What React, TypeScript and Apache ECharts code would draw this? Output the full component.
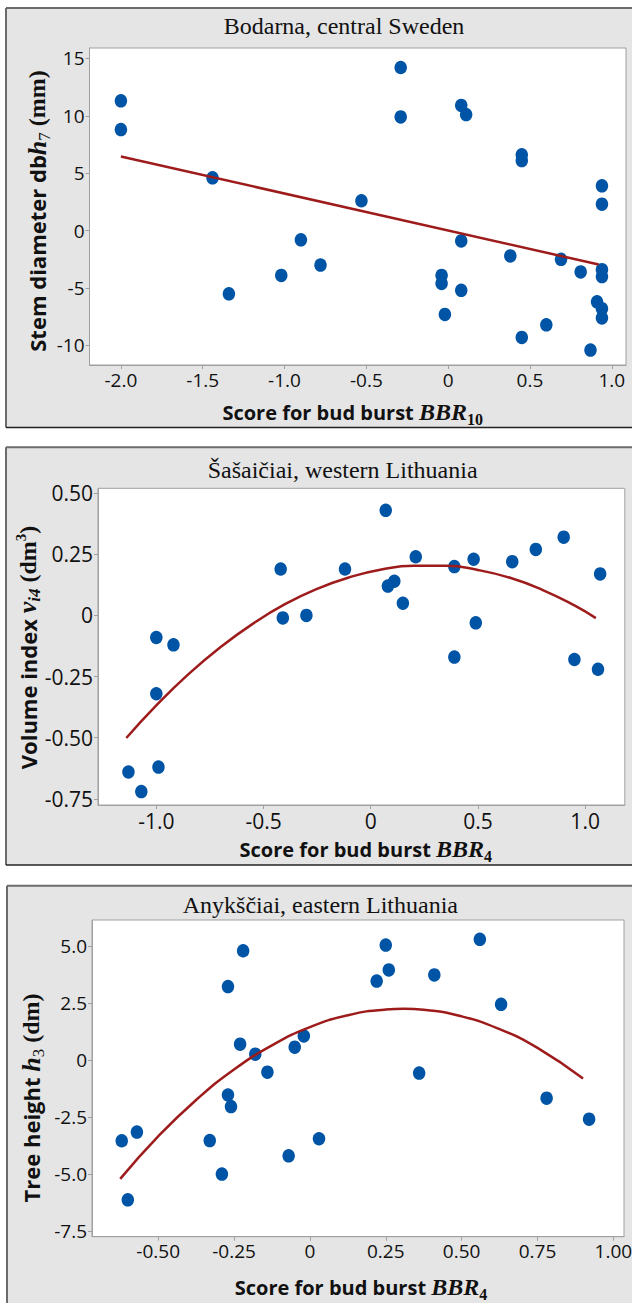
import React, { useEffect, useRef } from "react";
import * as echarts from "echarts";

// ---------- data ----------
const titles = [
  "Bodarna, central Sweden",
  "Šašaičiai, western Lithuania",
  "Anykščiai, eastern Lithuania",
];

// Panel 1: Stem diameter vs BBR10
const p1X = [-2.0, -2.0, -0.29, -0.29, 0.08, 0.11, 0.45, 0.45, -1.44, 0.94, 0.94, -0.53, -0.9, 0.08, 0.38, 0.69, -0.78, 0.81, 0.94, 0.94, -1.02, -0.04, -0.04, -1.34, 0.08, 0.91, 0.94, 0.94, -0.02, 0.6, 0.45, 0.87];
const p1Y = [11.3, 8.8, 14.2, 9.9, 10.9, 10.1, 6.6, 6.1, 4.6, 3.9, 2.3, 2.6, -0.8, -0.9, -2.2, -2.5, -3.0, -3.6, -3.4, -4.0, -3.9, -3.9, -4.6, -5.5, -5.2, -6.2, -6.8, -7.6, -7.3, -8.2, -9.3, -10.4];
const c1X = [-2.0, 0.92];
const c1Y = [6.45, -2.95];

// Panel 2: Volume index vs BBR4
const p2X = [0.07, 0.9, 0.77, 0.21, 0.48, 0.66, 0.39, -0.42, -0.12, 1.07, 0.11, 0.08, 0.15, -0.41, -0.3, 0.49, -1.0, -0.92, 0.39, 0.95, 1.06, -1.0, -0.99, -1.13, -1.07];
const p2Y = [0.43, 0.32, 0.27, 0.24, 0.23, 0.22, 0.2, 0.19, 0.19, 0.17, 0.14, 0.12, 0.05, -0.01, 0.0, -0.03, -0.09, -0.12, -0.17, -0.18, -0.22, -0.32, -0.62, -0.64, -0.72];
const c2X = [-1.14, -1.0, -0.85, -0.7, -0.55, -0.4, -0.25, -0.1, 0.05, 0.2, 0.35, 0.5, 0.65, 0.8, 0.95, 1.05];
const c2Y = [-0.501, -0.368, -0.24, -0.129, -0.034, 0.046, 0.109, 0.156, 0.188, 0.203, 0.203, 0.186, 0.154, 0.105, 0.041, -0.011];

// Panel 3: Tree height vs BBR4
const p3X = [0.56, 0.25, -0.22, 0.26, 0.41, 0.22, -0.27, 0.63, -0.02, -0.23, -0.05, -0.18, -0.14, 0.36, -0.27, 0.78, -0.26, 0.92, -0.57, -0.62, -0.33, 0.03, -0.07, -0.29, -0.6];
const p3Y = [5.29, 5.04, 4.79, 3.95, 3.73, 3.46, 3.22, 2.44, 1.05, 0.69, 0.56, 0.25, -0.54, -0.58, -1.54, -1.68, -2.05, -2.6, -3.17, -3.55, -3.54, -3.46, -4.21, -5.01, -6.14];
const c3X = [-0.625, -0.5, -0.375, -0.25, -0.125, 0, 0.125, 0.25, 0.31, 0.375, 0.5, 0.625, 0.75, 0.9];
const c3Y = [-5.22, -3.36, -1.76, -0.42, 0.64, 1.44, 1.96, 2.21, 2.24, 2.2, 1.91, 1.35, 0.53, -0.82];

// ticks
const x1Ticks = [-2, -1.5, -1, -0.5, 0, 0.5, 1];
const y1Ticks = [-10, -5, 0, 5, 10, 15];
const x2Ticks = [-1, -0.5, 0, 0.5, 1];
const y2Ticks = [-0.75, -0.5, -0.25, 0, 0.25, 0.5];
const x3Ticks = [-0.5, -0.25, 0, 0.25, 0.5, 0.75, 1];
const y3Ticks = [-7.5, -5, -2.5, 0, 2.5, 5];

const xRanges = [[-2.192, 1.087], [-1.272, 1.185], [-0.718, 1.035]];
const yRanges = [[-11.7, 15.9], [-0.775, 0.52], [-7.76, 6.14]];

// ---------- styles ----------
const DOT = "#0054a6";
const LINE = "#9e1b1b";
const AX = "#a0a0a0";
const PANEL = "#e5e5e5";
const TXT = "#111111";

const zip = (xs: number[], ys: number[]) => xs.map((x, i) => [x, ys[i]]);

const fmt = (d: number) => (v: number) => (Math.abs(v) < 1e-9 ? "0" : v.toFixed(d));

const grids = [
  { left: 89.5, top: 48, width: 536.5, height: 317 },
  { left: 98, top: 488.3, width: 526.8, height: 316.7 },
  { left: 92, top: 920, width: 532, height: 316.7 },
];

function axis(kind: "x" | "y", i: number, ticks: number[], dec: number, fs: number) {
  const r = kind === "x" ? xRanges[i] : yRanges[i];
  return {
    type: "value",
    gridIndex: i,
    min: r[0],
    max: r[1],
    splitLine: { show: false },
    axisLine: { show: true, onZero: false, lineStyle: { color: AX, width: 1 } },
    axisTick: { show: true, length: 4, customValues: ticks, lineStyle: { color: AX } },
    axisLabel: {
      customValues: ticks,
      formatter: fmt(dec),
      margin: 5,
      color: TXT,
      fontFamily: "Open Sans",
      fontSize: fs,
    },
  };
}

function rich(base: number) {
  return {
    s: { fontFamily: "Open Sans", fontWeight: "bold", fontSize: base, fill: TXT },
    m: { fontFamily: "Liberation Serif", fontWeight: "bold", fontStyle: "italic", fontSize: base + 4, fill: TXT },
    sb: { fontFamily: "Liberation Serif", fontWeight: "bold", fontSize: base - 4, fill: TXT, padding: [14, 0, 0, 0] },
    sr: { fontFamily: "Liberation Serif", fontSize: base - 5, fill: TXT, padding: [14, 0, 0, 0] },
    si: { fontFamily: "Liberation Serif", fontWeight: "bold", fontStyle: "italic", fontSize: base - 5, fill: TXT, padding: [14, 0, 0, 0] },
    p: { fontFamily: "Liberation Serif", fontWeight: "bold", fontSize: base + 2, fill: TXT },
    sp: { fontFamily: "Liberation Serif", fontWeight: "bold", fontSize: base - 7, fill: TXT, padding: [0, 0, 14, 0] },
  };
}

function panelBg(x: number, y0: number, y1: number, bottom: boolean) {
  const els: any[] = [
    { type: "rect", z: -10, shape: { x, y: y0, width: 640, height: y1 - y0 }, style: { fill: PANEL } },
    { type: "line", z: -9, shape: { x1: x, y1: y0, x2: 640, y2: y0 }, style: { stroke: "#6b6b6b", lineWidth: 2 } },
    { type: "line", z: -9, shape: { x1: x, y1: y0, x2: x, y2: y1 }, style: { stroke: "#6b6b6b", lineWidth: 2 } },
  ];
  if (bottom) {
    els.push({ type: "line", z: -9, shape: { x1: x, y1: y1, x2: 640, y2: y1 }, style: { stroke: "#222222", lineWidth: 1.5 } });
  }
  return els;
}

function title(text: string, x: number, y: number) {
  return {
    type: "text",
    z: 10,
    x,
    y,
    style: { text, fontFamily: "Liberation Serif", fontSize: 24, fill: TXT, align: "center", verticalAlign: "middle" },
  };
}

function richText(text: string, x: number, y: number, base: number, rotate: boolean) {
  return {
    type: "text",
    z: 10,
    x,
    y,
    rotation: rotate ? Math.PI / 2 : 0,
    style: { text, rich: rich(base), align: "center", verticalAlign: "middle" },
  };
}

export default function App() {
  const ref = useRef<HTMLDivElement>(null);
  useEffect(() => {
    document.body.style.margin = "0";
    if (!ref.current) return;
    const chart = echarts.init(ref.current, null, { renderer: "svg" });
    const scatter = (i: number, xs: number[], ys: number[]) => ({
      type: "scatter",
      xAxisIndex: i,
      yAxisIndex: i,
      data: zip(xs, ys),
      symbol: "circle",
      symbolSize: [12.5, 13.5],
      itemStyle: { color: DOT, opacity: 1 },
      z: 3,
    });
    const curve = (i: number, xs: number[], ys: number[]) => ({
      type: "line",
      xAxisIndex: i,
      yAxisIndex: i,
      data: zip(xs, ys),
      showSymbol: false,
      smooth: 0.5,
      lineStyle: { color: LINE, width: 2.5 },
      z: 4,
    });
    chart.setOption({
      animation: false,
      backgroundColor: "#ffffff",
      grid: grids.map((g) => ({
        ...g,
        show: true,
        backgroundColor: "#ffffff",
        borderColor: AX,
        borderWidth: 1,
        containLabel: false,
        outerBoundsMode: "none",
      })),
      xAxis: [axis("x", 0, x1Ticks, 1, 19), axis("x", 1, x2Ticks, 1, 21), axis("x", 2, x3Ticks, 2, 19)],
      yAxis: [axis("y", 0, y1Ticks, 0, 19), axis("y", 1, y2Ticks, 2, 21), axis("y", 2, y3Ticks, 1, 19)],
      series: [
        scatter(0, p1X, p1Y),
        curve(0, c1X, c1Y),
        scatter(1, p2X, p2Y),
        curve(1, c2X, c2Y),
        scatter(2, p3X, p3Y),
        curve(2, c3X, c3Y),
      ],
      graphic: [
        ...panelBg(6, 8, 427.5, true),
        ...panelBg(6, 447.3, 865, true),
        ...panelBg(7, 885.7, 1320, false),
        title(titles[0], 344, 26),
        title(titles[1], 342.6, 470),
        title(titles[2], 320.4, 905),
        richText("{s|Score for bud burst }{m|BBR}{sb|10}", 352.7, 412, 20, false),
        richText("{s|Score for bud burst }{m|BBR}{sb|4}", 365.8, 849, 20, false),
        richText("{s|Score for bud burst }{m|BBR}{sb|4}", 361, 1287, 20, false),
        richText("{s|Stem diameter db}{m|h}{sr|7}{p| (mm)}", 37, 211, 22, true),
        richText("{s|Volume index }{m|v}{si|i4}{p| (dm}{sp|3}{p|)}", 27.5, 647.5, 22, true),
        richText("{s|Tree height }{m|h}{sr|3}{p| (dm)}", 31, 1098, 22, true),
      ],
    });
    return () => chart.dispose();
  }, []);
  return <div ref={ref} style={{ width: 632, height: 1303 }} />;
}
